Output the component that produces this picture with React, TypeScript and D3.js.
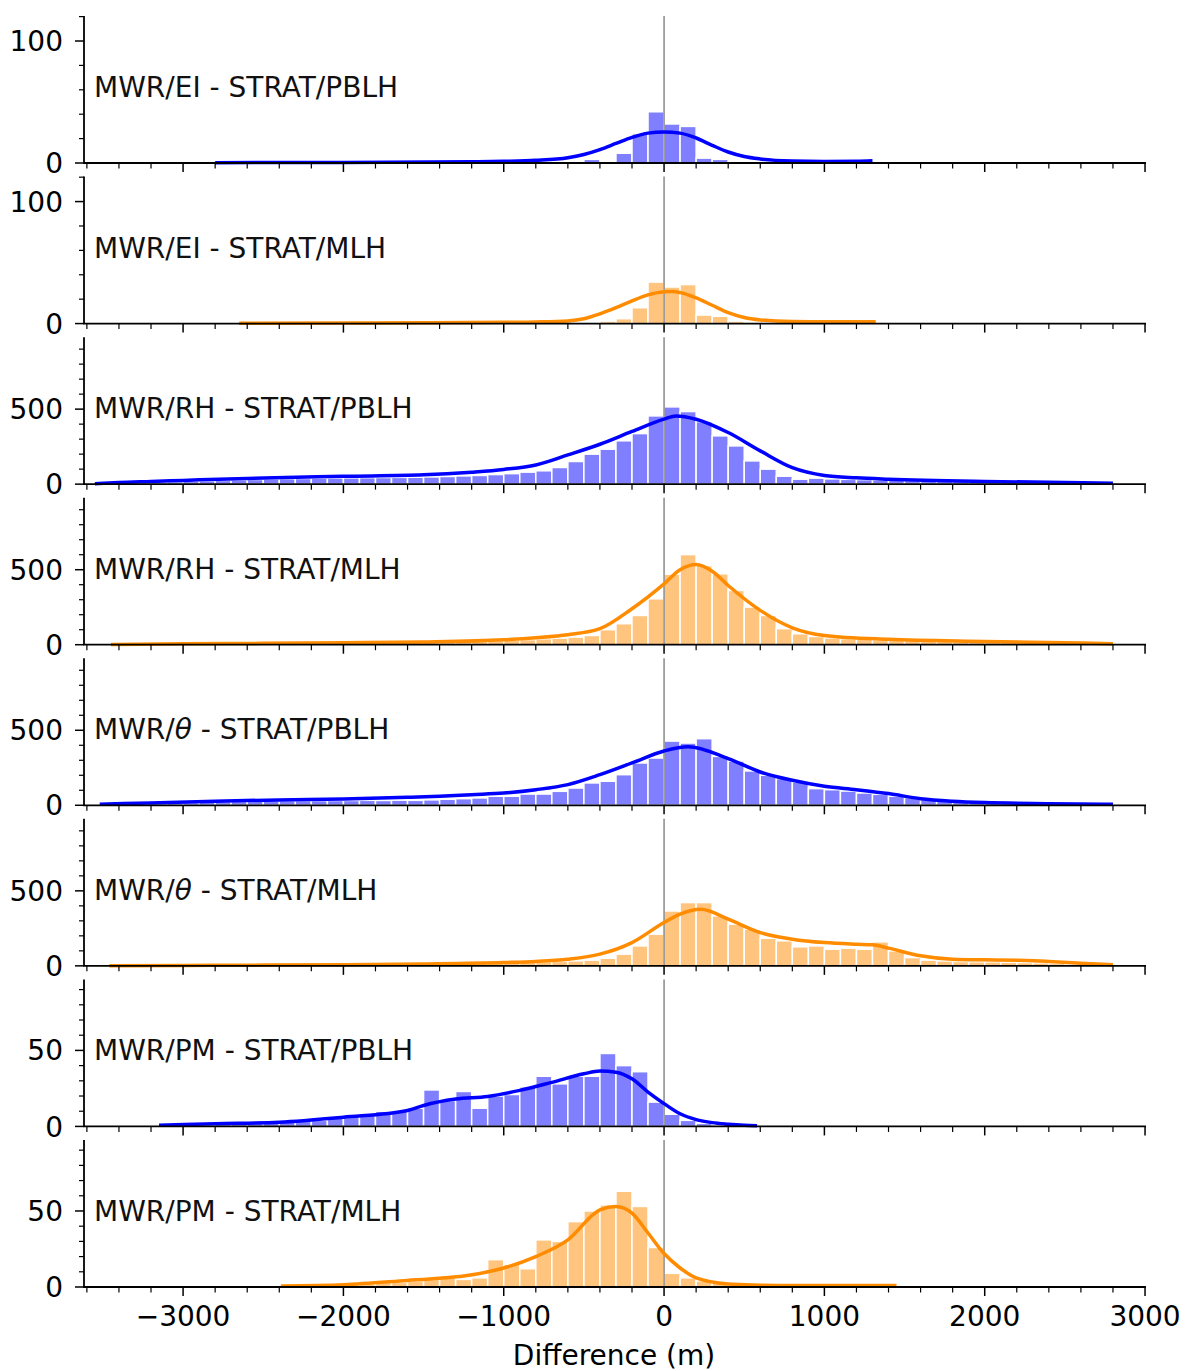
import React from "react";
import * as d3 from "d3";

// ---------- data ----------
const panelLabels = [
  ["MWR/EI - STRAT/PBLH"],
  ["MWR/EI - STRAT/MLH"],
  ["MWR/RH - STRAT/PBLH"],
  ["MWR/RH - STRAT/MLH"],
  ["MWR/", "θ", " - STRAT/PBLH"],
  ["MWR/", "θ", " - STRAT/MLH"],
  ["MWR/PM - STRAT/PBLH"],
  ["MWR/PM - STRAT/MLH"],
];
const panelColors = ["blue", "darkorange", "blue", "darkorange", "blue", "darkorange", "blue", "darkorange"];
const binWidth = 100;
const binStarts = [-2800, -2600, -3500, -3400, -3500, -3400, -3200, -2400];

const countsEiPblh = [1, 0, 0, 0, 0, 0, 0, 0, 1, 0, 0, 0, 0, 1, 0, 0, 0, 1, 0, 0, 1, 1, 1, 3, 0, 8, 24, 42, 32, 30, 4, 3, 1, 1, 0, 1, 0, 1, 0, 1, 1];
const countsEiMlh = [1, 0, 0, 0, 0, 1, 0, 0, 0, 0, 1, 0, 0, 0, 0, 0, 1, 0, 0, 1, 1, 1, 2, 4, 13, 34, 30, 32, 7, 6, 2, 1, 1, 0, 1, 0, 1, 1, 1];
const countsRhPblh = [4, 7, 10, 13, 16, 19, 22, 25, 28, 31, 34, 36, 38, 40, 41, 42, 43, 44, 45, 46, 48, 51, 55, 58, 64, 70, 80, 89, 111, 151, 200, 233, 289, 337, 455, 515, 484, 417, 322, 255, 155, 100, 53, 33, 40, 35, 32, 30, 28, 26, 24, 22, 20, 19, 17, 16, 14, 13, 11, 10, 8, 6, 4];
const countsRhMlh = [2, 3, 4, 5, 6, 7, 8, 9, 10, 10, 11, 12, 12, 13, 14, 15, 16, 17, 18, 19, 20, 22, 24, 27, 30, 34, 40, 44, 51, 62, 100, 140, 195, 306, 470, 601, 528, 473, 362, 251, 195, 107, 73, 55, 45, 40, 36, 33, 30, 28, 26, 24, 22, 20, 18, 16, 14, 12, 10, 8, 6, 4];
const countsThPblh = [3, 6, 9, 12, 15, 18, 21, 24, 26, 28, 29, 30, 31, 31, 32, 32, 33, 32, 34, 33, 36, 40, 44, 49, 60, 60, 75, 75, 93, 115, 149, 160, 204, 282, 315, 428, 415, 444, 326, 295, 229, 200, 178, 155, 111, 104, 95, 82, 73, 60, 51, 38, 29, 22, 18, 15, 13, 11, 9, 8, 6, 5, 4];
const countsThMlh = [2, 3, 3, 4, 4, 5, 5, 6, 6, 7, 7, 8, 8, 9, 9, 10, 11, 12, 13, 14, 15, 17, 19, 21, 22, 25, 28, 30, 33, 38, 51, 78, 133, 211, 366, 422, 422, 333, 278, 244, 184, 167, 127, 133, 111, 118, 111, 160, 100, 55, 38, 33, 29, 27, 27, 24, 22, 20, 16, 11, 9, 7];
const countsPmPblh = [1, 1, 1, 1, 2, 2, 2, 3, 3, 4, 4, 6, 6, 8, 10, 10, 12, 24, 17, 23, 12, 20, 21, 26, 33, 28, 33, 33, 48, 40, 36, 16, 8, 4, 2, 1, 1, 1];
const countsPmMlh = [1, 1, 1, 1, 2, 2, 3, 3, 4, 5, 6, 5, 6, 18, 15, 12, 31, 30, 43, 50, 54, 63, 53, 26, 9, 6, 4, 3, 2, 1, 1, 1, 1, 0, 1, 0, 1, 0, 1];

const kdeXEiPblh = [-2800, -2000, -1200, -1000, -800, -600, -500, -400, -300, -200, -100, 0, 100, 200, 300, 400, 500, 600, 800, 1000, 1200, 1300];
const kdeYEiPblh = [0.3, 0.5, 1.0, 1.4, 2.2, 4.3, 7, 11, 16, 21, 24.5, 25.5, 24.5, 20.5, 14.5, 9, 5.3, 3.3, 1.6, 1.2, 1.4, 1.8];
const kdeXEiMlh = [-2650, -2000, -1500, -1000, -800, -600, -500, -400, -300, -200, -100, 0, 50, 100, 200, 300, 400, 500, 600, 800, 1000, 1200, 1320];
const kdeYEiMlh = [0.2, 0.4, 0.6, 1.0, 1.3, 2.2, 4, 8, 13, 18.6, 23.5, 26, 26.3, 25.5, 21, 15, 9, 5, 3, 1.6, 1.4, 1.5, 1.5];
const kdeXRhPblh = [-3550, -3400, -3200, -3000, -2600, -2000, -1500, -1200, -1000, -800, -600, -400, -200, 0, 75, 200, 400, 600, 800, 1000, 1200, 1400, 2000, 2500, 2800];
const kdeYRhPblh = [3, 11, 18, 25, 38, 52, 62, 80, 98, 128, 195, 266, 351, 433, 455, 433, 344, 222, 110, 58, 42, 33, 18, 11, 6];
const kdeXRhMlh = [-3450, -3000, -2500, -2000, -1500, -1000, -800, -600, -400, -200, 0, 100, 200, 300, 400, 600, 800, 1000, 1400, 2000, 2500, 2800];
const kdeYRhMlh = [2, 6, 9, 13, 18, 33, 47, 67, 107, 240, 406, 500, 535, 490, 395, 229, 113, 62, 36, 22, 13, 7];
const kdeXThPblh = [-3520, -3200, -2800, -2400, -2000, -1600, -1400, -1200, -1000, -800, -600, -400, -200, 0, 150, 400, 600, 800, 1000, 1200, 1400, 1600, 1800, 2000, 2400, 2800];
const kdeYThPblh = [7, 16, 27, 36, 42, 53, 60, 71, 82, 104, 138, 204, 282, 362, 390, 311, 222, 167, 127, 104, 78, 44, 27, 18, 11, 7];
const kdeXThMlh = [-3460, -3000, -2500, -2000, -1500, -1000, -800, -600, -400, -200, 0, 100, 230, 400, 600, 800, 1000, 1200, 1300, 1400, 1600, 1800, 2000, 2200, 2400, 2600, 2800];
const kdeYThMlh = [1, 3, 5, 8, 13, 22, 29, 44, 78, 155, 289, 345, 377, 311, 222, 178, 155, 144, 140, 118, 67, 44, 40, 38, 29, 18, 7];
const kdeXPmPblh = [-3150, -2800, -2400, -2000, -1600, -1500, -1300, -1100, -900, -700, -500, -400, -300, -200, -100, 0, 100, 200, 300, 400, 500, 580];
const kdeYPmPblh = [0.8, 1.8, 2.8, 6.1, 10.5, 13.8, 18, 19.7, 23.7, 29, 34.6, 36.4, 35.7, 31.3, 22.6, 15, 8.3, 4.5, 2.5, 1.5, 0.8, 0.5];
const kdeXPmMlh = [-2390, -2000, -1600, -1400, -1250, -1000, -800, -600, -400, -300, -200, -100, 0, 100, 200, 400, 600, 800, 1100, 1450];
const kdeYPmMlh = [0.7, 1.5, 4.3, 5.8, 7.2, 12.5, 20, 31, 50.8, 53, 48.6, 35.5, 22, 12.5, 6, 2, 1.2, 0.9, 0.9, 0.9];

const allCounts = [countsEiPblh, countsEiMlh, countsRhPblh, countsRhMlh, countsThPblh, countsThMlh, countsPmPblh, countsPmMlh];
const allKdeX = [kdeXEiPblh, kdeXEiMlh, kdeXRhPblh, kdeXRhMlh, kdeXThPblh, kdeXThMlh, kdeXPmPblh, kdeXPmMlh];
const allKdeY = [kdeYEiPblh, kdeYEiMlh, kdeYRhPblh, kdeYRhMlh, kdeYThPblh, kdeYThMlh, kdeYPmPblh, kdeYPmMlh];

const yMaxes = [120.5, 120.5, 980, 980, 980, 980, 96.7, 96.7];
const yMajorTicks = [[0, 100], [0, 100], [0, 500], [0, 500], [0, 500], [0, 500], [0, 50], [0, 50]];
const yMinorSteps = [20, 20, 100, 100, 100, 100, 10, 10];
const xMajorTicks = [-3000, -2000, -1000, 0, 1000, 2000, 3000];
const xLabel = "Difference (m)";

// ---------- layout ----------
const W = 1192;
const H = 1371;
const left = 84;
const right = 1146;
const firstTop = 16;
const panelH = 147;
const step = 160.57;
const FONT = "DejaVu Sans, sans-serif";
const FS = 28;

const x = d3.scaleLinear().domain([-3618, 3006]).range([left, right]);

const xMinorTicks = d3.range(-3600, 3001, 200).filter((v) => v % 1000 !== 0);

function fmt(v: number) {
  return v < 0 ? "\u2212" + Math.abs(v) : String(v);
}

function Panel({ i }: { i: number }) {
  const top = firstTop + i * step;
  const bottom = top + panelH;
  const y = d3.scaleLinear().domain([0, yMaxes[i]]).range([bottom, top]);
  const color = panelColors[i];
  const counts = allCounts[i];
  const start = binStarts[i];
  const kdePts = allKdeX[i].map((v, k) => [v, allKdeY[i][k]] as [number, number]);
  const line = d3
    .line<[number, number]>()
    .x((d) => x(d[0]))
    .y((d) => y(d[1]))
    .curve(d3.curveMonotoneX);
  const yMinor = d3.range(0, yMaxes[i] + 0.001, yMinorSteps[i]).filter((v) => !yMajorTicks[i].includes(v));
  const isLast = i === 7;
  const label = panelLabels[i];
  return (
    <g>
      {counts.map((c, k) =>
        c > 0 ? (
          <rect
            key={k}
            x={x(start + k * binWidth)}
            y={y(c)}
            width={x(start + (k + 1) * binWidth) - x(start + k * binWidth)}
            height={bottom - y(c)}
            fill={color}
            fillOpacity={0.5}
            stroke="#ffffff"
            strokeWidth={1.5}
          />
        ) : null
      )}
      <line x1={x(0)} x2={x(0)} y1={top} y2={bottom} stroke="#808080" strokeWidth={1.4} />
      <path d={line(kdePts) || ""} fill="none" stroke={color} strokeWidth={3.5} />
      <line x1={left} x2={left} y1={top} y2={bottom} stroke="#000" strokeWidth={1.8} />
      <line x1={left - 0.9} x2={right} y1={bottom} y2={bottom} stroke="#000" strokeWidth={1.8} />
      {yMajorTicks[i].map((v) => (
        <g key={"ym" + v}>
          <line x1={left - 9} x2={left} y1={y(v)} y2={y(v)} stroke="#000" strokeWidth={1.5} />
          <text x={left - 21} y={y(v)} dy="0.36em" textAnchor="end" fontFamily={FONT} fontSize={FS}>
            {fmt(v)}
          </text>
        </g>
      ))}
      {yMinor.map((v) => (
        <line key={"yn" + v} x1={left - 5} x2={left} y1={y(v)} y2={y(v)} stroke="#000" strokeWidth={1.2} />
      ))}
      {xMajorTicks.map((v) => (
        <g key={"xm" + v}>
          <line x1={x(v)} x2={x(v)} y1={bottom} y2={bottom + 9} stroke="#000" strokeWidth={1.5} />
          {isLast ? (
            <text x={x(v)} y={bottom + 39} textAnchor="middle" fontFamily={FONT} fontSize={FS}>
              {fmt(v)}
            </text>
          ) : null}
        </g>
      ))}
      {xMinorTicks.map((v) => (
        <line key={"xn" + v} x1={x(v)} x2={x(v)} y1={bottom} y2={bottom + 5.5} stroke="#000" strokeWidth={1.2} />
      ))}
      <text x={left + 10} y={bottom - 66} fontFamily={FONT} fontSize={FS} fill="#111">
        {label.map((s, k) =>
          s === "θ" ? (
            <tspan key={k} fontStyle="italic">
              {s}
            </tspan>
          ) : (
            <tspan key={k}>{s}</tspan>
          )
        )}
      </text>
    </g>
  );
}

export default function App() {
  return (
    <svg
      width={W}
      height={H}
      viewBox={`0 0 ${W} ${H}`}
      style={{ position: "absolute", left: 0, top: 0, background: "#fff" }}
    >
      <rect x={0} y={0} width={W} height={H} fill="#fff" />
      {d3.range(8).map((i) => (
        <Panel key={i} i={i} />
      ))}
      <text x={x(0) - 50} y={1365} textAnchor="middle" fontFamily={FONT} fontSize={FS}>
        {xLabel}
      </text>
    </svg>
  );
}
